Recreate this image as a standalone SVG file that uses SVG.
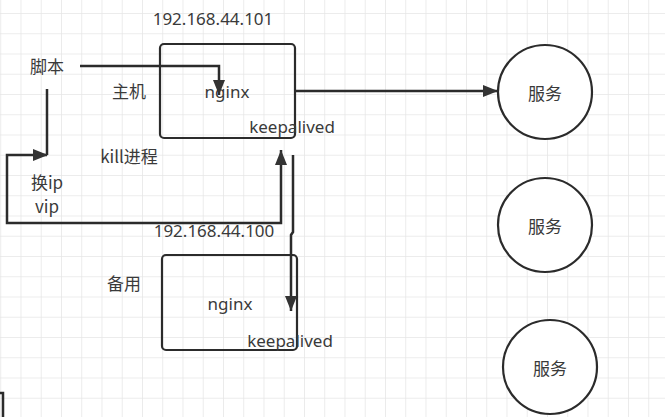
<svg xmlns="http://www.w3.org/2000/svg" width="665" height="417" viewBox="0 0 665 417">
<defs>
<pattern id="grid" x="0.25" y="-7.25" width="20.25" height="20.25" patternUnits="userSpaceOnUse">
<path d="M0,0 H20.25 M0,0 V20.25" fill="none" stroke="#e6e6e6" stroke-width="1.5"/>
</pattern>
<marker id="arr" markerUnits="userSpaceOnUse" markerWidth="16" markerHeight="12" refX="15" refY="6" orient="auto">
<path d="M0,0 L15,6 L0,12 Z" fill="#333"/>
</marker>
<marker id="arrs" markerUnits="userSpaceOnUse" markerWidth="16" markerHeight="12" refX="1" refY="6" orient="auto">
<path d="M15,0 L0,6 L15,12 Z" fill="#333"/>
</marker>
</defs>
<style>
.t{font-family:"Noto Sans","Noto Sans CJK SC",sans-serif;font-size:17px;fill:#3a3a3a}
.c{font-family:"Noto Sans CJK SC","Noto Sans",sans-serif;font-size:17px;fill:#3a3a3a}
.box{fill:#fff;fill-opacity:0;stroke:#2b2b2b;stroke-width:2.2}
.circ{fill:#fff;stroke:#2b2b2b;stroke-width:2.2}
.ln{fill:none;stroke:#2b2b2b;stroke-width:2.5}
</style>
<rect width="665" height="417" fill="#fff"/>
<rect width="665" height="417" fill="url(#grid)"/>

<g id="host1">
<rect class="box" x="160" y="44" width="135" height="94" rx="4"/>
<text class="t" x="213" y="25" text-anchor="middle">192.168.44.101</text>
<text class="t" x="227" y="98" text-anchor="middle">nginx</text>
<text class="t" x="292" y="133" text-anchor="middle">keepalived</text>
</g>
<g id="label-zhuji"><text class="c" x="129" y="98" text-anchor="middle">主机</text></g>
<g id="host2">
<rect class="box" x="162" y="255" width="135" height="95" rx="4"/>
<text class="t" x="230" y="310" text-anchor="middle">nginx</text>
<text class="t" x="290" y="347" text-anchor="middle">keepalived</text>
</g>
<g id="label-beiyong"><text class="c" x="124" y="290" text-anchor="middle">备用</text></g>
<g id="script"><text class="c" x="47" y="73" text-anchor="middle">脚本</text></g>
<g id="label-kill"><text class="c" x="129" y="163" text-anchor="middle">kill进程</text></g>
<g id="label-ip">
<text class="c" x="47" y="189" text-anchor="middle">换ip</text>
<text class="c" x="47" y="213" text-anchor="middle">vip</text>
</g>
<g id="ip100"><text class="t" x="214" y="237" text-anchor="middle">192.168.44.100</text></g>

<g id="svc1"><circle class="circ" cx="545" cy="92" r="47"/><text class="c" x="545" y="100" text-anchor="middle" font-size="18">服务</text></g>
<g id="svc2"><circle class="circ" cx="545" cy="225" r="47"/><text class="c" x="545" y="233" text-anchor="middle" font-size="18">服务</text></g>
<g id="svc3"><circle class="circ" cx="550" cy="367" r="47"/><text class="c" x="550" y="375" text-anchor="middle" font-size="18">服务</text></g>

<g id="connectors">
<path class="ln" d="M80,66 H219 V95" marker-end="url(#arr)"/>
<path class="ln" d="M295,91 H498" marker-end="url(#arr)"/>
<path class="ln" d="M47,89 V155"/>
<path class="ln" d="M47,155 H7 V223 H281 V150" marker-start="url(#arrs)" marker-end="url(#arr)"/>
<path class="ln" d="M293,155 V232 L291,235 V311" marker-end="url(#arr)"/>
<path class="ln" d="M0,393 H3 V417"/>
</g>
</svg>
